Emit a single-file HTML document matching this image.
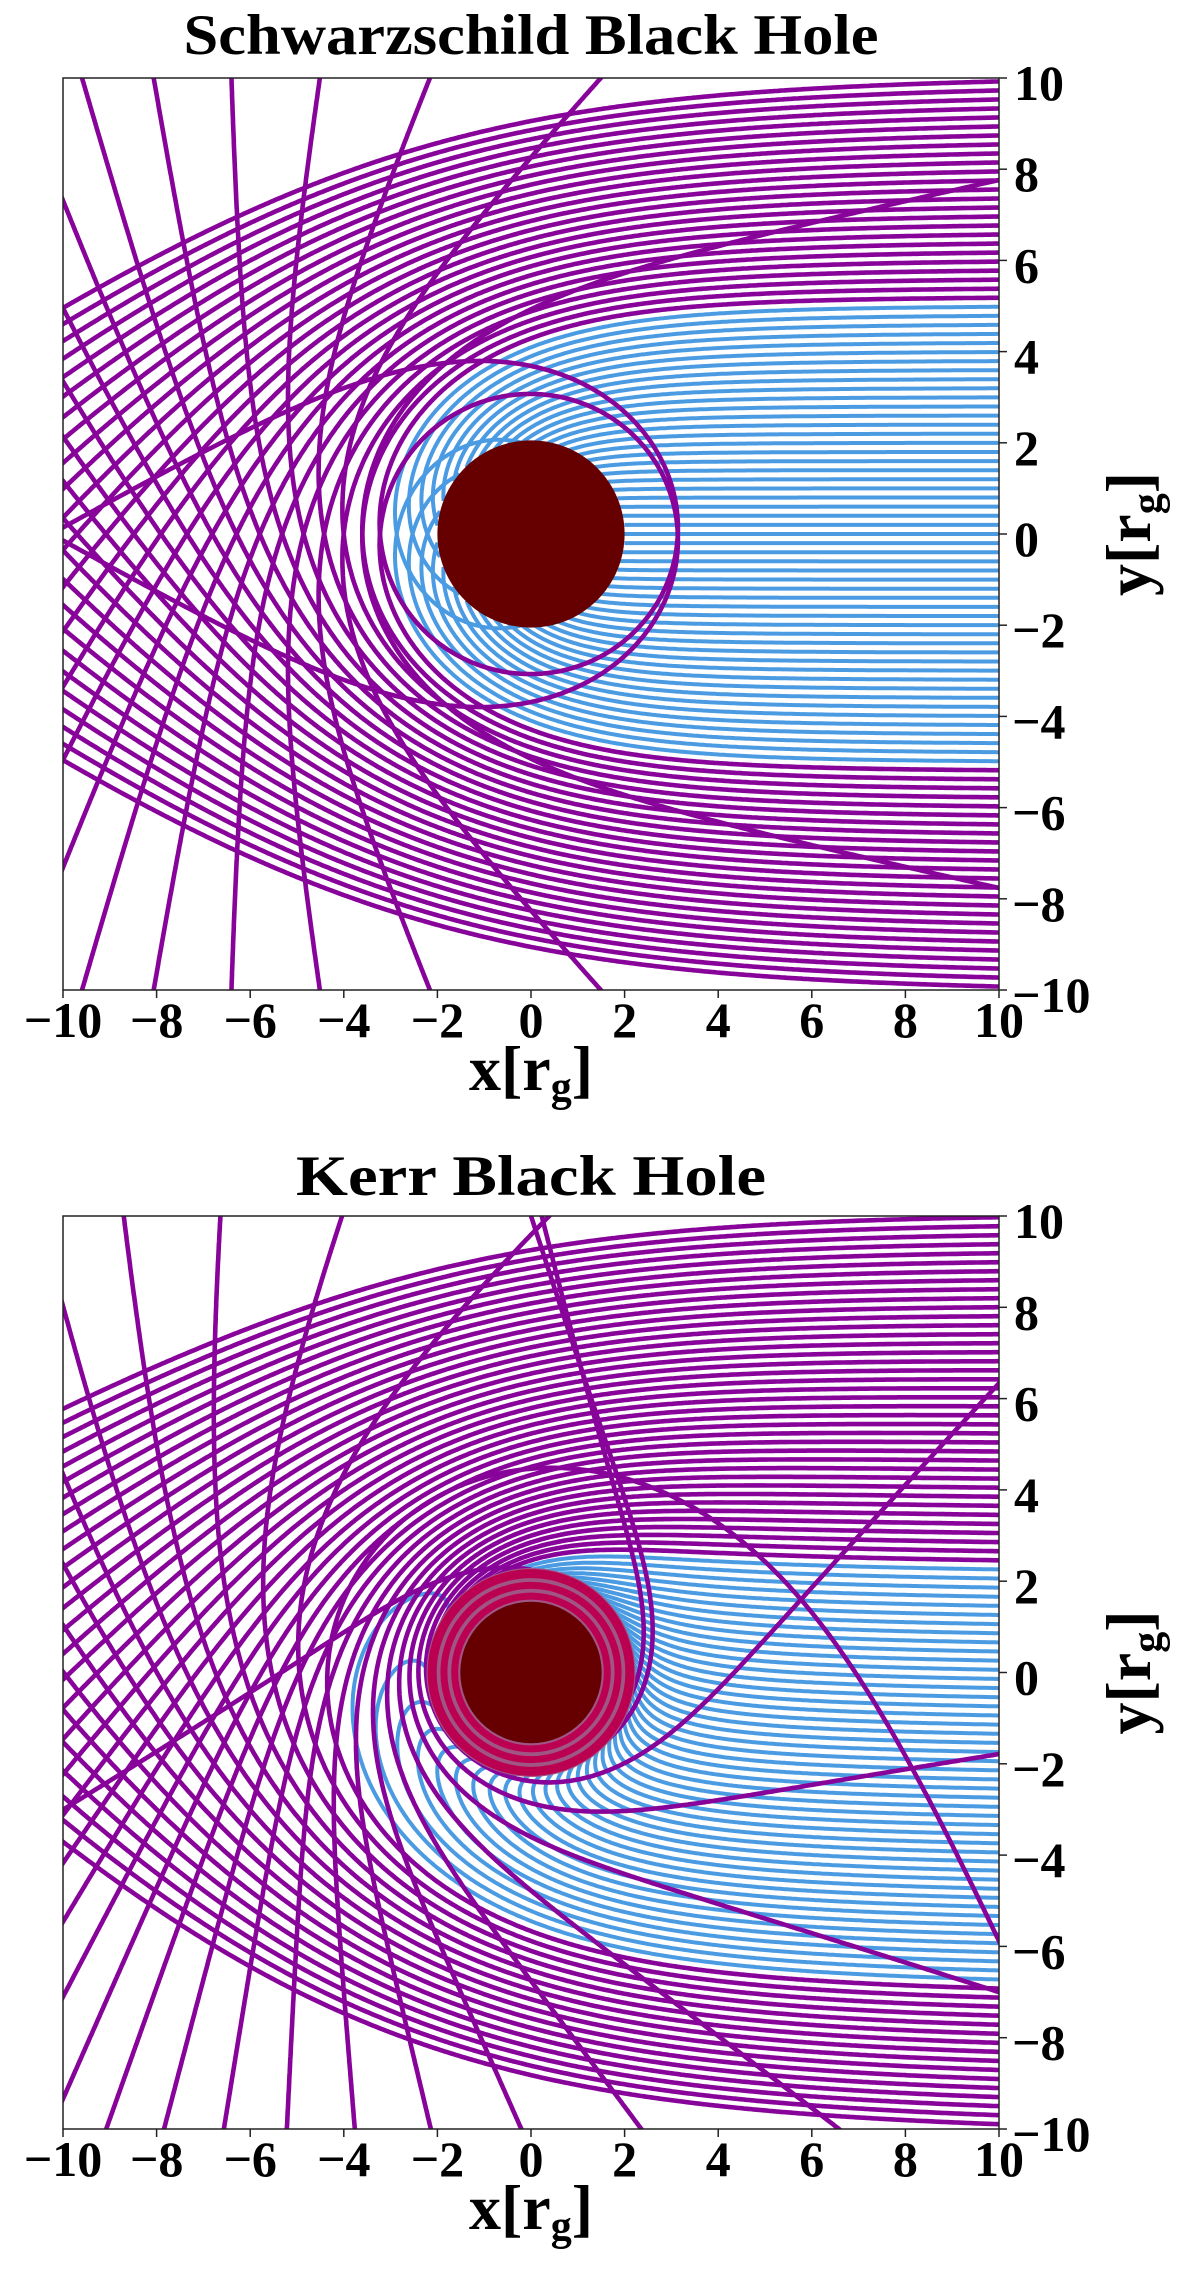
<!DOCTYPE html>
<html><head><meta charset="utf-8"><style>
html,body{margin:0;padding:0;background:#fff;overflow:hidden;width:1200px;height:2273px;}
svg{display:block;}
text{font-family:"Liberation Serif",serif;font-weight:bold;fill:#000;}
</style></head>
<body>
<svg id="fig" width="1200" height="2273" viewBox="0 0 1200 2273" xmlns="http://www.w3.org/2000/svg">
<defs>
<clipPath id="clipTop"><rect x="63" y="78" width="936" height="912"/></clipPath>
<clipPath id="clipBot"><rect x="63" y="1216" width="936" height="913"/></clipPath>
</defs>
<text x="531" y="54" font-size="57" text-anchor="middle" textLength="695" lengthAdjust="spacingAndGlyphs">Schwarzschild Black Hole</text>
<text x="531" y="1195" font-size="57" text-anchor="middle" textLength="470" lengthAdjust="spacingAndGlyphs">Kerr Black Hole</text>
<g id="panelTop"></g>
<g id="panelBot"></g>
</svg>
<script>
// impact parameters of incoming rays (y at right edge, r_g)
const impactParams = [-10,-9.8,-9.6,-9.4,-9.2,-9,-8.8,-8.6,-8.4,-8.2,-8,-7.8,-7.6,-7.4,-7.2,-7,-6.8,-6.6,-6.4,-6.2,-6,-5.8,-5.6,-5.4,-5.2,-5,-4.8,-4.6,-4.4,-4.2,-4,-3.8,-3.6,-3.4,-3.2,-3,-2.8,-2.6,-2.4,-2.2,-2,-1.8,-1.6,-1.4,-1.2,-1,-0.8,-0.6,-0.4,-0.2,0,0.2,0.4,0.6,0.8,1,1.2,1.4,1.6,1.8,2,2.2,2.4,2.6,2.8,3,3.2,3.4,3.6,3.8,4,4.2,4.4,4.6,4.8,5,5.2,5.4,5.6,5.8,6,6.2,6.4,6.6,6.8,7,7.2,7.4,7.6,7.8,8,8.2,8.4,8.6,8.8,9,9.2,9.4,9.6,9.8,10];
// black hole spin per panel
const spins = [0, 0.99];
const panelNames = ["schwarzschild", "kerr"];
// axis tick labels
const xTicks = [-10,-8,-6,-4,-2,0,2,4,6,8,10];
const yTicks = [10,8,6,4,2,0,-2,-4,-6,-8,-10];

const NS = "http://www.w3.org/2000/svg";
const PURPLE = "#870399", BLUE = "#4b9be3";
const panels = [
  {g: document.getElementById("panelTop"), top: 78, bottom: 990, clip: "clipTop"},
  {g: document.getElementById("panelBot"), top: 1216, bottom: 2129, clip: "clipBot"}
];
const LEFT = 63, RIGHT = 999;

function mk(tag, attrs, parent) {
  const e = document.createElementNS(NS, tag);
  for (const k in attrs) e.setAttribute(k, attrs[k]);
  parent.appendChild(e);
  return e;
}

// equatorial null geodesic in Kerr (Boyer-Lindquist, Mino time)
function trace(b, a) {
  const L = b;
  const rPlus = 1 + Math.sqrt(1 - a * a);
  const rStop = rPlus + (a > 0 ? 0.04 : 0.01);
  const x0 = 14;
  let r = Math.sqrt(x0 * x0 + b * b), phi = Math.atan2(b, x0);
  const Rf = (r) => { const P = r * r + a * a - a * L; const D = r * r - 2 * r + a * a; return P * P - D * (L - a) * (L - a); };
  const deriv = (r, pr) => {
    const P = r * r + a * a - a * L; const D = r * r - 2 * r + a * a;
    return [pr, 2 * r * P - (r - 1) * (L - a) * (L - a), -(a - L) + a * P / D];
  };
  let pr = -Math.sqrt(Math.max(Rf(r), 0));
  const pts = [];
  let captured = false;
  for (let i = 0; i < 80000; i++) {
    const rho = Math.sqrt(r * r + a * a);
    if (i % 2 === 0) pts.push([rho * Math.cos(phi), rho * Math.sin(phi)]);
    if (r < rStop) { captured = true; break; }
    if (r > 17 && pr > 0) break;
    const d = deriv(r, pr);
    const speed = Math.sqrt(d[0] * d[0] + (r * d[2]) * (r * d[2]));
    const h = 0.025 / Math.max(speed, 1e-6);
    const k1 = d;
    const k2 = deriv(r + h / 2 * k1[0], pr + h / 2 * k1[1]);
    const k3 = deriv(r + h / 2 * k2[0], pr + h / 2 * k2[1]);
    const k4 = deriv(r + h * k3[0], pr + h * k3[1]);
    r += h / 6 * (k1[0] + 2 * k2[0] + 2 * k3[0] + k4[0]);
    pr += h / 6 * (k1[1] + 2 * k2[1] + 2 * k3[1] + k4[1]);
    phi += h / 6 * (k1[2] + 2 * k2[2] + 2 * k3[2] + k4[2]);
    if (!(r > 0)) { captured = true; break; }
  }
  if (r < rStop + 0.5) captured = captured || r < 2.3 && pr < 0;
  const rho = Math.sqrt(r * r + a * a);
  pts.push([rho * Math.cos(phi), rho * Math.sin(phi)]);
  return {pts, captured};
}

panels.forEach((p, pi) => {
  const a = spins[pi];
  const cy = (p.top + p.bottom) / 2;
  const sx = (RIGHT - LEFT) / 20, sy = (p.bottom - p.top) / 20;
  const X = (x) => 531 + x * sx;
  const Y = (y) => cy - y * sy;
  const clipG = mk("g", {"clip-path": "url(#" + p.clip + ")"}, p.g);
  
  
  const blueG = mk("g", {}, clipG);
  const purpG = mk("g", {}, clipG);
  impactParams.forEach((b) => {
    const res = trace(b, a);
    let d = "", pen = false;
    res.pts.forEach((q) => {
      if (Math.abs(q[0]) > 10.5 || Math.abs(q[1]) > 10.5) { pen = false; return; }
      d += (pen ? "L" : "M") + X(q[0]).toFixed(1) + " " + Y(q[1]).toFixed(1);
      pen = true;
    });
    if (!d) return;
    const path = mk("path", {d: d, fill: "none", stroke: res.captured ? BLUE : PURPLE,
      "stroke-width": res.captured ? 4 : 4.6, "stroke-linejoin": "round"}, res.captured ? blueG : purpG);
    
    
  });
  const rH = a > 0 ? Math.sqrt(Math.pow(1 + Math.sqrt(1 - a * a), 2) + a * a) : 2;
  if (a > 0) {
    const rE = Math.sqrt(4 + a * a);
    const ring = mk("circle", {cx: X(0), cy: Y(0), r: ((rE + rH - 0.1) / 2) * sx, fill: "none", stroke: "#a05685", "stroke-width": (rE - rH + 0.1) * sx}, clipG);
    
    
    [rE - 0.12, rH + 0.12, rH + 0.35].forEach((rr, k) => {
      const c = mk("circle", {cx: X(0), cy: Y(0), r: rr * sx, fill: "none", stroke: "#bb0052", "stroke-width": k === 0 ? 9 : 7}, clipG);
      
      
    });
  }
  const hz = mk("circle", {cx: X(0), cy: Y(0), r: rH * sx, fill: "#660000"}, clipG);
  
  

  const frame = mk("rect", {x: LEFT, y: p.top, width: RIGHT - LEFT, height: p.bottom - p.top, fill: "none", stroke: "#222", "stroke-width": 1.5}, p.g);
  
  
  xTicks.forEach((t) => {
    const tk = mk("line", {x1: X(t), x2: X(t), y1: p.bottom, y2: p.bottom + 8, stroke: "#222", "stroke-width": 1.5}, p.g);
    
    
    const lb = mk("text", {x: X(t), y: p.bottom + 47, "font-size": 50, "text-anchor": "middle"}, p.g);
    lb.textContent = t < 0 ? "\u2212" + Math.abs(t) : String(t);
    
    
  });
  yTicks.forEach((t) => {
    const tk = mk("line", {x1: RIGHT, x2: RIGHT + 8, y1: Y(t), y2: Y(t), stroke: "#222", "stroke-width": 1.5}, p.g);
    
    
    const lb = mk("text", {x: t < 0 ? 1012 : 1014, y: Y(t) + 22, "font-size": 50, "text-anchor": "start"}, p.g);
    lb.textContent = t < 0 ? "\u2212" + Math.abs(t) : String(t);
    
    
  });
  const xl = mk("text", {x: 531, y: p.bottom + 100, "font-size": 64, "text-anchor": "middle"}, p.g);
  xl.innerHTML = 'x[r<tspan font-size="42" dy="11">g</tspan><tspan dy="-11">]</tspan>';
  
  
  const yl = mk("text", {x: 0, y: 0, "font-size": 64, "text-anchor": "middle", transform: "translate(1150," + cy + ") rotate(-90)"}, p.g);
  yl.innerHTML = 'y[r<tspan font-size="42" dy="11">g</tspan><tspan dy="-11">]</tspan>';
  
  
});
</script>
</body></html>
